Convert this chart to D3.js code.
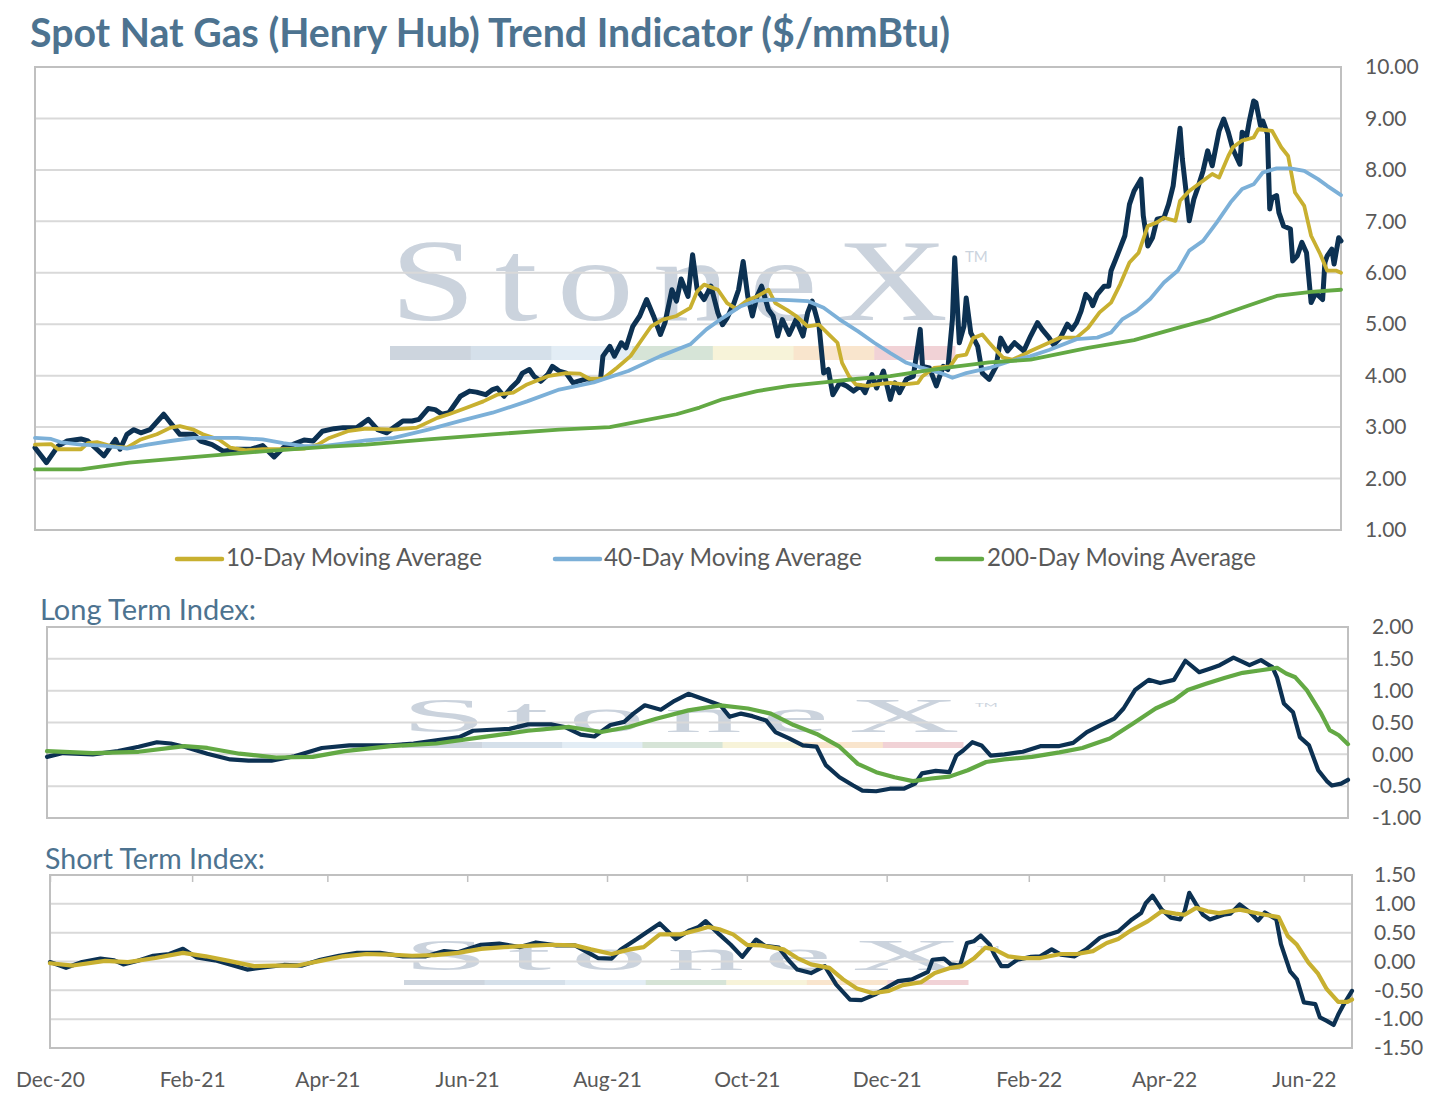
<!DOCTYPE html>
<html><head><meta charset="utf-8">
<script src="https://cdn.jsdelivr.net/npm/d3@7"></script>
<style>
html,body{margin:0;padding:0;background:#fff;}
svg{display:block;}
</style></head>
<body>
<svg id="chart" width="1440" height="1098"></svg>
<script>
// ---------------- DATA ----------------
const chartTitle = "Spot Nat Gas (Henry Hub) Trend Indicator ($/mmBtu)";
const legendLabels = ["10-Day Moving Average", "40-Day Moving Average", "200-Day Moving Average"];
const panelTitles = ["Long Term Index:", "Short Term Index:"];
const dateDomain = ["2020-12-01", "2022-06-22"];
const xTickDates = ["2020-12-01","2021-02-01","2021-04-01","2021-06-01","2021-08-01","2021-10-01","2021-12-01","2022-02-01","2022-04-01","2022-06-01"];
const priceTicks = [1,2,3,4,5,6,7,8,9,10];
const longTicks = [-1,-0.5,0,0.5,1,1.5,2];
const shortTicks = [-1.5,-1,-0.5,0,0.5,1,1.5];

const spot = [
["2020-12-01",2.60],["2020-12-06",2.31],["2020-12-11",2.63],["2020-12-15",2.73],["2020-12-21",2.77],["2020-12-24",2.73],["2020-12-31",2.44],["2021-01-05",2.76],["2021-01-07",2.57],["2021-01-10",2.86],
["2021-01-13",2.95],["2021-01-16",2.89],["2021-01-20",2.95],["2021-01-26",3.25],["2021-01-29",3.08],["2021-02-02",2.86],["2021-02-08",2.86],["2021-02-11",2.73],["2021-02-16",2.66],["2021-02-21",2.53],
["2021-02-27",2.57],["2021-03-05",2.57],["2021-03-10",2.64],["2021-03-15",2.42],["2021-03-19",2.60],["2021-03-23",2.66],["2021-03-28",2.75],["2021-04-01",2.73],["2021-04-05",2.92],["2021-04-10",2.97],
["2021-04-14",2.99],["2021-04-20",2.99],["2021-04-25",3.15],["2021-04-29",2.95],["2021-05-03",2.89],["2021-05-06",2.99],["2021-05-10",3.12],["2021-05-14",3.12],["2021-05-17",3.15],["2021-05-21",3.36],
["2021-05-24",3.34],["2021-05-27",3.25],["2021-05-30",3.28],["2021-06-04",3.60],["2021-06-08",3.70],["2021-06-11",3.68],["2021-06-15",3.63],["2021-06-18",3.73],["2021-06-20",3.76],["2021-06-23",3.60],
["2021-06-26",3.76],["2021-06-29",3.89],["2021-07-01",4.05],["2021-07-04",4.12],["2021-07-06",3.99],["2021-07-09",3.89],["2021-07-12",4.02],["2021-07-14",4.18],["2021-07-17",4.09],["2021-07-20",4.05],
["2021-07-23",3.86],["2021-07-25",3.89],["2021-07-29",3.94],["2021-08-01",3.91],["2021-08-04",3.94],["2021-08-05",4.38],["2021-08-08",4.57],["2021-08-10",4.38],["2021-08-13",4.64],["2021-08-15",4.54],
["2021-08-18",4.96],["2021-08-21",5.16],["2021-08-24",5.48],["2021-08-27",5.16],["2021-08-30",4.80],["2021-09-01",5.03],["2021-09-04",5.67],["2021-09-06",5.45],["2021-09-08",5.88],["2021-09-11",5.54],
["2021-09-13",6.35],["2021-09-15",5.67],["2021-09-18",5.48],["2021-09-21",5.74],["2021-09-24",5.22],["2021-09-26",4.99],["2021-09-28",5.12],["2021-10-01",5.41],["2021-10-03",5.67],["2021-10-05",6.22],
["2021-10-07",5.54],["2021-10-09",5.16],["2021-10-11",5.54],["2021-10-13",5.74],["2021-10-16",5.28],["2021-10-18",5.16],["2021-10-20",4.77],["2021-10-22",5.09],["2021-10-25",4.80],["2021-10-28",5.09],
["2021-10-31",4.77],["2021-11-02",5.22],["2021-11-04",5.45],["2021-11-07",4.96],["2021-11-09",4.05],["2021-11-11",4.12],["2021-11-13",3.63],["2021-11-16",3.86],["2021-11-19",3.80],["2021-11-22",3.70],
["2021-11-25",3.80],["2021-11-27",3.67],["2021-11-30",4.02],["2021-12-02",3.76],["2021-12-05",4.09],["2021-12-08",3.54],["2021-12-10",3.86],["2021-12-12",3.67],["2021-12-15",3.93],["2021-12-18",3.99],
["2021-12-21",4.90],["2021-12-22",4.18],["2021-12-25",4.15],["2021-12-28",3.80],["2021-12-31",4.18],["2022-01-02",4.12],["2022-01-04",5.09],["2022-01-05",6.29],["2022-01-07",4.64],["2022-01-09",4.96],
["2022-01-10",5.51],["2022-01-12",4.83],["2022-01-15",4.57],["2022-01-17",4.05],["2022-01-20",3.93],["2022-01-23",4.18],["2022-01-25",4.73],["2022-01-28",4.48],["2022-01-31",4.64],["2022-02-04",4.48],
["2022-02-07",4.77],["2022-02-10",5.03],["2022-02-12",4.90],["2022-02-15",4.74],["2022-02-17",4.60],["2022-02-20",4.74],["2022-02-23",5.00],["2022-02-25",4.90],["2022-02-27",5.03],["2022-03-01",5.26],
["2022-03-03",5.58],["2022-03-05",5.48],["2022-03-06",5.36],["2022-03-08",5.58],["2022-03-11",5.74],["2022-03-13",5.74],["2022-03-14",6.04],["2022-03-16",6.26],["2022-03-18",6.49],["2022-03-20",6.72],
["2022-03-22",7.33],["2022-03-24",7.59],["2022-03-27",7.82],["2022-03-28",7.11],["2022-03-30",6.52],["2022-04-01",6.68],["2022-04-03",7.04],["2022-04-06",7.07],["2022-04-08",7.33],["2022-04-10",7.69],
["2022-04-12",8.44],["2022-04-13",8.81],["2022-04-14",8.21],["2022-04-16",7.43],["2022-04-17",7.01],["2022-04-19",7.43],["2022-04-21",7.69],["2022-04-23",7.98],["2022-04-25",8.37],["2022-04-27",8.08],
["2022-04-30",8.76],["2022-05-02",8.99],["2022-05-04",8.73],["2022-05-06",8.40],["2022-05-09",8.11],["2022-05-10",8.73],["2022-05-12",8.66],["2022-05-13",8.92],["2022-05-15",9.34],["2022-05-16",9.31],
["2022-05-18",8.86],["2022-05-19",8.95],["2022-05-21",8.70],["2022-05-22",7.24],["2022-05-23",7.46],["2022-05-25",7.50],["2022-05-26",7.17],["2022-05-28",6.91],["2022-05-31",6.85],["2022-06-01",6.23],
["2022-06-03",6.33],["2022-06-05",6.59],["2022-06-07",6.39],["2022-06-09",5.42],["2022-06-11",5.61],["2022-06-14",5.48],["2022-06-15",6.20],["2022-06-16",6.33],["2022-06-18",6.46],["2022-06-19",6.17],
["2022-06-21",6.68],["2022-06-22",6.62]
];

const ma10 = [
["2020-12-01",2.66],["2020-12-08",2.67],["2020-12-11",2.57],["2020-12-21",2.57],["2020-12-24",2.69],["2020-12-28",2.71],["2021-01-03",2.63],["2021-01-10",2.60],["2021-01-16",2.76],["2021-01-23",2.86],
["2021-01-29",2.99],["2021-02-02",3.02],["2021-02-08",2.95],["2021-02-12",2.86],["2021-02-19",2.76],["2021-02-24",2.60],["2021-03-03",2.55],["2021-03-10",2.57],["2021-03-19",2.57],["2021-03-28",2.58],
["2021-04-03",2.66],["2021-04-08",2.79],["2021-04-16",2.92],["2021-04-24",2.97],["2021-05-06",2.95],["2021-05-16",2.99],["2021-05-25",3.18],["2021-05-30",3.25],["2021-06-07",3.38],["2021-06-14",3.50],
["2021-06-20",3.63],["2021-06-27",3.67],["2021-07-03",3.83],["2021-07-12",3.99],["2021-07-20",4.05],["2021-07-26",4.04],["2021-07-30",3.94],["2021-08-05",3.94],["2021-08-11",4.15],["2021-08-17",4.38],
["2021-08-21",4.64],["2021-08-26",4.96],["2021-08-31",5.09],["2021-09-06",5.16],["2021-09-12",5.32],["2021-09-15",5.64],["2021-09-18",5.77],["2021-09-24",5.67],["2021-09-28",5.41],["2021-10-02",5.30],
["2021-10-07",5.47],["2021-10-11",5.54],["2021-10-16",5.67],["2021-10-19",5.41],["2021-10-24",5.28],["2021-10-28",5.16],["2021-11-02",4.96],["2021-11-07",4.99],["2021-11-12",4.77],["2021-11-15",4.64],
["2021-11-17",4.25],["2021-11-20",3.99],["2021-11-23",3.83],["2021-11-28",3.80],["2021-12-02",3.83],["2021-12-08",3.86],["2021-12-14",3.83],["2021-12-20",3.86],["2021-12-22",3.99],["2021-12-27",4.15],
["2022-01-03",4.18],["2022-01-06",4.38],["2022-01-10",4.41],["2022-01-13",4.73],["2022-01-17",4.80],["2022-01-20",4.64],["2022-01-22",4.54],["2022-01-26",4.35],["2022-01-30",4.31],["2022-02-04",4.41],
["2022-02-07",4.48],["2022-02-14",4.62],["2022-02-20",4.74],["2022-02-27",4.74],["2022-03-04",4.93],["2022-03-09",5.23],["2022-03-14",5.42],["2022-03-18",5.78],["2022-03-22",6.20],["2022-03-26",6.39],
["2022-03-30",6.91],["2022-04-03",6.98],["2022-04-06",7.07],["2022-04-11",7.01],["2022-04-13",7.40],["2022-04-17",7.59],["2022-04-23",7.79],["2022-04-27",7.92],["2022-04-30",7.85],["2022-05-04",8.27],
["2022-05-06",8.44],["2022-05-10",8.57],["2022-05-15",8.63],["2022-05-17",8.79],["2022-05-23",8.76],["2022-05-27",8.44],["2022-05-30",8.27],["2022-06-02",7.56],["2022-06-06",7.30],["2022-06-09",6.72],
["2022-06-13",6.36],["2022-06-16",6.04],["2022-06-20",6.04],["2022-06-22",6.00]
];

const ma40 = [
["2020-12-01",2.79],["2020-12-08",2.77],["2020-12-12",2.71],["2020-12-21",2.66],["2020-12-31",2.64],["2021-01-10",2.58],["2021-01-19",2.66],["2021-01-29",2.73],["2021-02-08",2.79],["2021-02-27",2.79],
["2021-03-10",2.76],["2021-03-19",2.69],["2021-03-28",2.63],["2021-04-05",2.63],["2021-04-14",2.68],["2021-04-24",2.74],["2021-05-06",2.79],["2021-05-21",2.95],["2021-06-04",3.12],["2021-06-18",3.28],
["2021-07-03",3.50],["2021-07-17",3.73],["2021-08-01",3.87],["2021-08-16",4.09],["2021-08-30",4.38],["2021-09-12",4.61],["2021-09-19",4.90],["2021-09-26",5.12],["2021-10-04",5.35],["2021-10-11",5.46],
["2021-10-18",5.48],["2021-10-25",5.47],["2021-11-02",5.45],["2021-11-09",5.32],["2021-11-16",5.09],["2021-11-24",4.86],["2021-12-01",4.64],["2021-12-08",4.44],["2021-12-15",4.25],["2021-12-22",4.15],
["2021-12-30",4.05],["2022-01-04",3.96],["2022-01-10",4.05],["2022-01-20",4.15],["2022-01-29",4.28],["2022-02-07",4.38],["2022-02-15",4.50],["2022-02-27",4.71],["2022-03-08",4.74],["2022-03-14",4.84],
["2022-03-19",5.10],["2022-03-25",5.26],["2022-03-31",5.49],["2022-04-06",5.81],["2022-04-12",6.04],["2022-04-17",6.43],["2022-04-23",6.62],["2022-04-29",6.98],["2022-05-05",7.37],["2022-05-10",7.63],
["2022-05-15",7.72],["2022-05-19",7.95],["2022-05-25",8.03],["2022-05-31",8.03],["2022-06-06",7.98],["2022-06-12",7.82],["2022-06-16",7.69],["2022-06-22",7.51]
];

const ma200 = [
["2020-12-01",2.18],["2020-12-21",2.18],["2021-01-11",2.31],["2021-02-09",2.42],["2021-03-10",2.53],["2021-04-08",2.62],["2021-04-24",2.66],["2021-05-21",2.76],["2021-06-18",2.86],["2021-07-17",2.95],
["2021-08-08",3.00],["2021-08-22",3.12],["2021-09-06",3.25],["2021-09-16",3.38],["2021-09-26",3.54],["2021-10-11",3.70],["2021-10-25",3.80],["2021-11-09",3.87],["2021-11-24",3.94],["2021-12-08",3.99],
["2021-12-22",4.09],["2022-01-06",4.18],["2022-01-20",4.26],["2022-02-07",4.31],["2022-03-04",4.54],["2022-03-24",4.69],["2022-04-12",4.93],["2022-04-26",5.10],["2022-05-10",5.32],["2022-05-25",5.55],
["2022-06-09",5.63],["2022-06-22",5.67]
];

const longIndex = [
["2020-12-01",-0.04],["2020-12-08",0.02],["2020-12-21",0.00],["2021-01-01",0.05],["2021-01-10",0.12],["2021-01-18",0.19],["2021-01-24",0.17],["2021-01-30",0.12],["2021-02-09",0.01],["2021-02-19",-0.08],
["2021-02-27",-0.10],["2021-03-09",-0.10],["2021-03-19",-0.03],["2021-03-31",0.10],["2021-04-12",0.14],["2021-04-20",0.14],["2021-04-30",0.14],["2021-05-10",0.17],["2021-05-20",0.22],["2021-05-30",0.27],
["2021-06-05",0.37],["2021-06-15",0.39],["2021-06-21",0.40],["2021-06-29",0.47],["2021-07-09",0.47],["2021-07-15",0.43],["2021-07-22",0.31],["2021-07-28",0.28],["2021-08-04",0.46],["2021-08-10",0.51],
["2021-08-14",0.64],["2021-08-19",0.77],["2021-08-26",0.70],["2021-09-01",0.84],["2021-09-07",0.95],["2021-09-15",0.85],["2021-09-21",0.77],["2021-09-25",0.59],["2021-09-30",0.64],["2021-10-05",0.60],
["2021-10-11",0.53],["2021-10-15",0.35],["2021-10-21",0.25],["2021-10-27",0.14],["2021-11-02",0.12],["2021-11-06",-0.17],["2021-11-12",-0.36],["2021-11-18",-0.49],["2021-11-22",-0.57],["2021-11-28",-0.58],
["2021-12-04",-0.54],["2021-12-10",-0.54],["2021-12-15",-0.46],["2021-12-18",-0.30],["2021-12-24",-0.26],["2021-12-30",-0.28],["2022-01-02",-0.02],["2022-01-05",0.06],["2022-01-09",0.19],["2022-01-13",0.14],
["2022-01-17",-0.02],["2022-01-23",0.00],["2022-01-31",0.04],["2022-02-08",0.13],["2022-02-16",0.13],["2022-02-22",0.18],["2022-02-28",0.35],["2022-03-06",0.46],["2022-03-12",0.56],["2022-03-16",0.72],
["2022-03-21",1.01],["2022-03-27",1.17],["2022-04-01",1.12],["2022-04-07",1.17],["2022-04-12",1.47],["2022-04-18",1.29],["2022-04-23",1.35],["2022-04-27",1.40],["2022-05-03",1.52],["2022-05-10",1.40],
["2022-05-15",1.48],["2022-05-20",1.37],["2022-05-22",1.21],["2022-05-25",0.80],["2022-05-29",0.66],["2022-06-01",0.27],["2022-06-05",0.14],["2022-06-09",-0.25],["2022-06-13",-0.43],["2022-06-15",-0.49],
["2022-06-19",-0.46],["2022-06-22",-0.40]
];

const longSignal = [
["2020-12-01",0.05],["2020-12-21",0.02],["2021-01-10",0.04],["2021-01-30",0.13],["2021-02-09",0.10],["2021-02-23",0.01],["2021-03-11",-0.05],["2021-03-27",-0.04],["2021-04-10",0.05],["2021-04-30",0.13],
["2021-05-20",0.17],["2021-06-09",0.27],["2021-06-29",0.37],["2021-07-17",0.43],["2021-07-31",0.35],["2021-08-12",0.43],["2021-08-24",0.56],["2021-09-07",0.69],["2021-09-21",0.77],["2021-10-03",0.72],
["2021-10-13",0.64],["2021-10-23",0.46],["2021-11-02",0.32],["2021-11-12",0.12],["2021-11-20",-0.15],["2021-11-28",-0.28],["2021-12-06",-0.36],["2021-12-14",-0.42],["2021-12-22",-0.38],["2021-12-30",-0.35],
["2022-01-07",-0.25],["2022-01-15",-0.12],["2022-01-23",-0.08],["2022-02-04",-0.04],["2022-02-16",0.03],["2022-02-26",0.10],["2022-03-10",0.25],["2022-03-20",0.48],["2022-03-30",0.72],["2022-04-07",0.85],
["2022-04-13",1.01],["2022-04-21",1.11],["2022-04-29",1.20],["2022-05-07",1.28],["2022-05-15",1.32],["2022-05-22",1.36],["2022-05-26",1.27],["2022-05-30",1.21],["2022-06-04",1.01],["2022-06-10",0.66],
["2022-06-14",0.38],["2022-06-18",0.30],["2022-06-22",0.16]
];

const shortIndex = [
["2020-12-01",-0.01],["2020-12-08",-0.11],["2020-12-15",-0.01],["2020-12-23",0.05],["2020-12-29",0.02],["2021-01-02",-0.05],["2021-01-08",0.01],["2021-01-15",0.10],["2021-01-22",0.13],["2021-01-28",0.22],
["2021-02-03",0.07],["2021-02-11",0.02],["2021-02-19",-0.07],["2021-02-25",-0.14],["2021-03-05",-0.10],["2021-03-13",-0.06],["2021-03-21",-0.07],["2021-03-29",0.03],["2021-04-06",0.10],["2021-04-14",0.15],
["2021-04-24",0.15],["2021-05-04",0.09],["2021-05-14",0.09],["2021-05-22",0.18],["2021-05-28",0.16],["2021-06-07",0.29],["2021-06-15",0.31],["2021-06-24",0.25],["2021-07-01",0.33],["2021-07-10",0.28],
["2021-07-18",0.28],["2021-07-24",0.15],["2021-07-28",0.06],["2021-08-03",0.05],["2021-08-07",0.21],["2021-08-14",0.39],["2021-08-18",0.50],["2021-08-24",0.66],["2021-08-31",0.39],["2021-09-06",0.54],
["2021-09-10",0.60],["2021-09-13",0.70],["2021-09-19",0.47],["2021-09-24",0.29],["2021-09-29",0.08],["2021-10-05",0.38],["2021-10-09",0.27],["2021-10-15",0.24],["2021-10-19",0.03],["2021-10-23",-0.14],
["2021-10-29",-0.20],["2021-11-04",-0.08],["2021-11-09",-0.40],["2021-11-15",-0.66],["2021-11-20",-0.67],["2021-11-26",-0.57],["2021-12-02",-0.43],["2021-12-06",-0.34],["2021-12-12",-0.31],["2021-12-19",-0.18],
["2021-12-21",0.03],["2021-12-26",0.05],["2021-12-29",-0.05],["2022-01-02",-0.07],["2022-01-05",0.32],["2022-01-08",0.35],["2022-01-11",0.45],["2022-01-15",0.29],["2022-01-17",0.12],["2022-01-20",-0.08],
["2022-01-23",-0.08],["2022-01-27",0.03],["2022-02-02",0.08],["2022-02-06",0.09],["2022-02-11",0.21],["2022-02-15",0.12],["2022-02-21",0.09],["2022-02-26",0.21],["2022-03-04",0.41],["2022-03-08",0.47],
["2022-03-12",0.52],["2022-03-18",0.73],["2022-03-22",0.84],["2022-03-24",1.01],["2022-03-27",1.14],["2022-03-31",0.90],["2022-04-04",0.76],["2022-04-08",0.73],["2022-04-10",0.87],["2022-04-12",1.19],
["2022-04-15",0.99],["2022-04-18",0.81],["2022-04-21",0.73],["2022-04-27",0.81],["2022-04-30",0.83],["2022-05-04",0.99],["2022-05-08",0.87],["2022-05-12",0.71],["2022-05-15",0.85],["2022-05-20",0.73],
["2022-05-22",0.30],["2022-05-26",-0.17],["2022-05-29",-0.31],["2022-06-01",-0.71],["2022-06-06",-0.74],["2022-06-08",-0.97],["2022-06-11",-1.03],["2022-06-14",-1.10],["2022-06-16",-0.92],["2022-06-18",-0.77],
["2022-06-22",-0.51]
];

const shortSignal = [
["2020-12-01",-0.03],["2020-12-11",-0.07],["2020-12-25",0.01],["2021-01-04",-0.01],["2021-01-16",0.06],["2021-01-28",0.15],["2021-02-07",0.09],["2021-02-17",0.01],["2021-02-28",-0.08],["2021-03-09",-0.07],
["2021-03-19",-0.07],["2021-03-29",0.01],["2021-04-08",0.09],["2021-04-18",0.13],["2021-04-28",0.12],["2021-05-08",0.10],["2021-05-18",0.11],["2021-05-28",0.15],["2021-06-07",0.22],["2021-06-17",0.25],
["2021-06-27",0.27],["2021-07-08",0.29],["2021-07-18",0.28],["2021-07-25",0.21],["2021-08-03",0.13],["2021-08-11",0.21],["2021-08-17",0.25],["2021-08-24",0.47],["2021-09-02",0.47],["2021-09-10",0.55],
["2021-09-14",0.60],["2021-09-19",0.56],["2021-09-25",0.47],["2021-10-01",0.29],["2021-10-07",0.28],["2021-10-17",0.21],["2021-10-23",0.06],["2021-10-29",-0.05],["2021-11-06",-0.11],["2021-11-12",-0.31],
["2021-11-18",-0.47],["2021-11-25",-0.55],["2021-12-02",-0.51],["2021-12-08",-0.41],["2021-12-16",-0.36],["2021-12-22",-0.20],["2021-12-29",-0.11],["2022-01-03",-0.08],["2022-01-08",0.05],["2022-01-13",0.24],
["2022-01-17",0.21],["2022-01-23",0.09],["2022-01-29",0.06],["2022-02-06",0.06],["2022-02-15",0.13],["2022-02-22",0.13],["2022-03-01",0.18],["2022-03-07",0.32],["2022-03-12",0.39],["2022-03-18",0.55],
["2022-03-25",0.70],["2022-03-31",0.87],["2022-04-06",0.83],["2022-04-10",0.81],["2022-04-15",0.93],["2022-04-20",0.87],["2022-04-25",0.84],["2022-05-04",0.90],["2022-05-10",0.85],["2022-05-15",0.81],
["2022-05-21",0.77],["2022-05-25",0.44],["2022-05-29",0.29],["2022-06-03",-0.02],["2022-06-07",-0.20],["2022-06-11",-0.48],["2022-06-16",-0.70],["2022-06-20",-0.70],["2022-06-22",-0.66]
];

// ---------------- RENDER ----------------
const parse = d3.timeParse("%Y-%m-%d");
const svg = d3.select("#chart");
const FONT = "Lato, 'Open Sans', sans-serif";
const C = {
  navy: "#0c3152", gold: "#c8b030", blue: "#7cb0d8", green: "#63a944",
  grid: "#d9d9d9", border: "#c0c0c0", text: "#595959", title: "#4d7390", wm: "#cbd3dd"
};
const wmBar = ["#cdd5de", "#d5e0ea", "#e3edf5", "#d6e4d7", "#f7f3d9", "#f9e5cd", "#f1d2d6"];
const fmt = v => v.toFixed(2);

function fit(sel, w) {
  const L = sel.node().getComputedTextLength();
  const fs = parseFloat(sel.attr("font-size"));
  if (L > 0) sel.attr("font-size", fs * w / L);
}

svg.append("rect").attr("width", 1440).attr("height", 1098).attr("fill", "#fff");

const WM_SX = 1.32;
const panels = [
  { x0: 35, x1: 1341, y0: 67, y1: 530, dom: [1, 10], ticks: priceTicks, lx: 1365,
    wm: { x0: 390, x1: 948, base: 320, sy: 1, bx0: 390, bx1: 955, by: 346, bh: 14, tmx: 965, tmy: 262 },
    series: [ [spot, C.navy, 5], [ma10, C.gold, 3.8], [ma40, C.blue, 3.8], [ma200, C.green, 3.8] ] },
  { x0: 47, x1: 1348, y0: 627, y1: 818, dom: [-1, 2], ticks: longTicks, lx: 1372,
    wm: { x0: 401, x1: 960, base: 732, sy: 0.42, bx0: 402, bx1: 963, by: 742, bh: 6, tmx: 975, tmy: 707 },
    series: [ [longIndex, C.navy, 4.2], [longSignal, C.green, 4.2] ] },
  { x0: 50, x1: 1352, y0: 875, y1: 1048, dom: [-1.5, 1.5], ticks: shortTicks, lx: 1374,
    wm: { x0: 403, x1: 963, base: 970, sy: 0.37, bx0: 404, bx1: 968, by: 980, bh: 5, tmx: 977, tmy: 950 },
    series: [ [shortIndex, C.navy, 4.2], [shortSignal, C.gold, 4.2] ] }
];

panels.forEach((p, i) => {
  const x = d3.scaleTime().domain(dateDomain.map(parse)).range([p.x0, p.x1]);
  const y = d3.scaleLinear().domain(p.dom).range([p.y1, p.y0]);
  p.x = x; p.y = y;
  const g = svg.append("g");

  // watermark
  const w = p.wm;
  const wg = g.append("g").attr("class", "watermark");
  const segW = (w.bx1 - w.bx0) / wmBar.length;
  wg.selectAll("rect.wmbar").data(wmBar).join("rect")
    .attr("x", (d, k) => w.bx0 + k * segW).attr("y", w.by)
    .attr("width", segW + 0.5).attr("height", w.bh).attr("fill", d => d);
  wg.append("text")
    .attr("transform", `translate(${w.x0},${w.base}) scale(${WM_SX},${w.sy})`)
    .attr("font-family", "'Liberation Serif', 'DejaVu Serif', serif")
    .attr("font-size", 117)
    .attr("fill", C.wm)
    .attr("textLength", (w.x1 - w.x0) / WM_SX)
    .attr("lengthAdjust", "spacing")
    .text("StoneX");
  wg.append("text")
    .attr("transform", `translate(${w.tmx},${w.tmy}) scale(1,${w.sy})`)
    .attr("font-family", FONT).attr("font-size", 15).attr("fill", C.wm)
    .text("TM");

  // gridlines
  g.selectAll("line.grid").data(p.ticks.slice(1, -1)).join("line")
    .attr("x1", p.x0).attr("x2", p.x1)
    .attr("y1", d => y(d)).attr("y2", d => y(d))
    .attr("stroke", C.grid).attr("stroke-width", 2);

  // border
  g.append("rect").attr("x", p.x0).attr("y", p.y0)
    .attr("width", p.x1 - p.x0).attr("height", p.y1 - p.y0)
    .attr("fill", "none").attr("stroke", C.border).attr("stroke-width", 2);

  // lines
  const line = d3.line().x(d => x(parse(d[0]))).y(d => y(d[1]));
  p.series.forEach(([data, col, sw]) => {
    g.append("path").datum(data).attr("d", line)
      .attr("fill", "none").attr("stroke", col).attr("stroke-width", sw)
      .attr("stroke-linejoin", "round").attr("stroke-linecap", "round");
  });

  // y axis (right)
  const ax = g.append("g").attr("transform", `translate(${p.lx},0)`)
    .call(d3.axisRight(y).tickValues(p.ticks).tickFormat(fmt).tickSize(0).tickPadding(0));
  ax.select(".domain").remove();
  ax.selectAll("text").attr("font-family", FONT).attr("font-size", 21)
    .attr("fill", C.text).attr("text-anchor", "start");
});

// bottom x axis labels
const pb = panels[2];
const xa = svg.append("g").attr("transform", `translate(0,${pb.y1})`)
  .call(d3.axisBottom(pb.x).tickValues(xTickDates.map(parse))
    .tickFormat(d3.timeFormat("%b-%y")).tickSize(0).tickPadding(24));
xa.select(".domain").remove();
xa.selectAll("text").attr("font-family", FONT).attr("font-size", 21).attr("fill", C.text);

// small ticks along top edge of short-term panel
const xt = svg.append("g").attr("transform", `translate(0,${pb.y0})`)
  .call(d3.axisBottom(pb.x).tickValues(xTickDates.map(parse)).tickFormat("").tickSize(7));
xt.select(".domain").remove();
xt.selectAll("line").attr("stroke", C.border).attr("stroke-width", 1.5);

// title
const t = svg.append("text").attr("x", 30).attr("y", 47)
  .attr("font-family", FONT).attr("font-weight", 700).attr("font-size", 33)
  .attr("fill", C.title).text(chartTitle);
fit(t, 920);

// legend
const legendItems = [
  { label: legendLabels[0], color: C.gold, lx: 177, tx: 226, tw: 256 },
  { label: legendLabels[1], color: C.blue, lx: 555, tx: 604, tw: 258 },
  { label: legendLabels[2], color: C.green, lx: 937, tx: 987, tw: 269 }
];
legendItems.forEach(it => {
  svg.append("line").attr("x1", it.lx).attr("x2", it.lx + 45).attr("y1", 559).attr("y2", 559)
    .attr("stroke", it.color).attr("stroke-width", 4.5).attr("stroke-linecap", "round");
  const lt = svg.append("text").attr("x", it.tx).attr("y", 566)
    .attr("font-family", FONT).attr("font-size", 21).attr("fill", C.text).text(it.label);
  fit(lt, it.tw);
});

// panel titles
const st1 = svg.append("text").attr("x", 40).attr("y", 620)
  .attr("font-family", FONT).attr("font-size", 24).attr("fill", C.title).text(panelTitles[0]);
fit(st1, 216);
const st2 = svg.append("text").attr("x", 45).attr("y", 869)
  .attr("font-family", FONT).attr("font-size", 24).attr("fill", C.title).text(panelTitles[1]);
fit(st2, 220);
</script>
</body></html>
